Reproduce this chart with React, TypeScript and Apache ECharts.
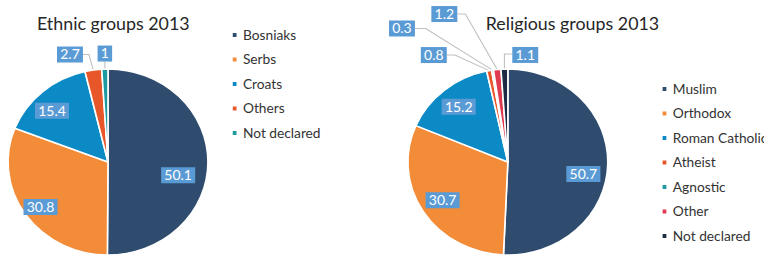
import React, { useEffect, useRef } from 'react';
import * as echarts from 'echarts';

// ---------- data ----------
const ethnicTitle = 'Ethnic groups 2013';
const ethnicNames = ['Bosniaks', 'Serbs', 'Croats', 'Others', 'Not declared'];
const ethnicValues = [50.1, 30.8, 15.4, 2.7, 1];
const ethnicColors = ['#2F4C6E', '#F28C38', '#0C8AC5', '#E8572A', '#1B9AA0'];

const religionTitle = 'Religious groups 2013';
const religionNames = ['Muslim', 'Orthodox', 'Roman Catholic', 'Atheist', 'Agnostic', 'Other', 'Not declared'];
const religionValues = [50.7, 30.7, 15.2, 0.8, 0.3, 1.2, 1.1];
const religionColors = ['#2F4C6E', '#F28C38', '#0C8AC5', '#E8572A', '#1B9AA0', '#E03A4E', '#1D2B44'];

// ---------- layout ----------
const SCALE_X = 1.0746;
const W = 711;
const H = 256;
const RADIUS = 93;
const LEFT_CENTER = [100.5, 162];
const RIGHT_CENTER = [472.6, 162];
const INSIDE_FACTOR = 1.45;
const FONT = 'Lato, "Open Sans", sans-serif';
const BOX_COLOR = '#5B9BD5';
const LEADER_COLOR = '#BFBFBF';

type OuterSpec = { dx: number; dy: number; side: 'left' | 'right' | 'below'; elbow?: number };

const ethnicOuter: Record<number, OuterSpec> = {
  3: { dx: -21.7, dy: -15.5, side: 'left', elbow: 5.6 },
  4: { dx: 0, dy: -15.5, side: 'below' },
};
const ethnicNudge: Record<number, number[]> = { 0: [-6.5, 13], 1: [-3.4, 4.6], 2: [-5, 3] };

const religionOuter: Record<number, OuterSpec> = {
  3: { dx: -51.5, dy: -15.6, side: 'left', elbow: 7.5 },
  4: { dx: -84.3, dy: -41.6, side: 'left', elbow: 10 },
  5: { dx: -49.2, dy: -55.5, side: 'left', elbow: 7.5 },
  6: { dx: 19.4, dy: -14.1, side: 'right' },
};
const religionNudge: Record<number, number[]> = { 0: [-1.5, 10.5] };

function makeLabelLayout(center: number[], outer: Record<number, OuterSpec>, nudge: Record<number, number[]>) {
  return (p: any) => {
    const idx = p.dataIndex;
    const lr = p.labelRect;
    const lcx = lr.x + lr.width / 2;
    const lcy = lr.y + lr.height / 2;
    const spec = outer[idx];
    if (!spec) {
      const nd = nudge[idx] || [0, 0];
      return {
        x: center[0] + (lcx - center[0]) * INSIDE_FACTOR + nd[0],
        y: center[1] + (lcy - center[1]) * INSIDE_FACTOR + nd[1],
        align: 'center',
        verticalAlign: 'middle',
      };
    }
    const edge = p.labelLinePoints && p.labelLinePoints[0] ? p.labelLinePoints[0] : [lcx, lcy];
    const lx = edge[0] + spec.dx;
    const ly = edge[1] + spec.dy;
    const hw = lr.width / 2;
    const hh = lr.height / 2;
    let pts: number[][];
    if (spec.side === 'left') {
      const ax = lx + hw;
      pts = [[edge[0], edge[1]], [ax + (spec.elbow || 5), ly], [ax, ly]];
    } else if (spec.side === 'right') {
      const ax = lx - hw;
      pts = [[edge[0], edge[1]], [edge[0], ly - 1], [ax, ly - 1]];
    } else {
      pts = [[edge[0], edge[1]], [edge[0], ly + hh], [edge[0], ly + hh]];
    }
    return { x: lx, y: ly, align: 'center', verticalAlign: 'middle', labelLinePoints: pts };
  };
}

function buildData(names: string[], values: number[], colors: string[], outer: Record<number, OuterSpec>) {
  return names.map((name, i) => ({
    name,
    value: values[i],
    itemStyle: { color: colors[i] },
    label: { position: outer[i] ? 'outside' : 'inside' },
    labelLine: { show: !!outer[i] },
  }));
}

const labelStyle = {
  show: true,
  formatter: '{c}',
  color: '#ffffff',
  backgroundColor: BOX_COLOR,
  padding: [1.5, 3],
  fontSize: 13,
  lineHeight: 13,
  fontFamily: FONT,
};

function legendFor(names: string[], colors: string[], left: number, top: number) {
  return {
    orient: 'vertical',
    left,
    top,
    icon: 'rect',
    itemWidth: 5.5,
    itemHeight: 6,
    itemGap: 10.5,
    padding: 0,
    selectedMode: false,
    textStyle: { fontFamily: FONT, fontSize: 12.8, color: '#333333', lineHeight: 14 },
    data: names.map((n, i) => ({ name: n, itemStyle: { color: colors[i] } })),
  };
}

export default function App() {
  const ref = useRef<HTMLDivElement>(null);
  useEffect(() => {
    if (!ref.current) return;
    const chart = echarts.init(ref.current, undefined, { renderer: 'svg' });
    const option: any = {
      animation: false,
      backgroundColor: '#ffffff',
      title: [
        {
          text: ethnicTitle,
          left: 34.4,
          top: 13,
          padding: 0,
          textStyle: { fontFamily: FONT, fontSize: 16.6, fontWeight: 'normal', color: '#262626', lineHeight: 22 },
        },
        {
          text: religionTitle,
          left: 452,
          top: 13,
          padding: 0,
          textStyle: { fontFamily: FONT, fontSize: 16.6, fontWeight: 'normal', color: '#262626', lineHeight: 22 },
        },
      ],
      legend: [
        legendFor(ethnicNames, ethnicColors, 214.6, 28),
        legendFor(religionNames, religionColors, 614.6, 82),
      ],
      series: [
        {
          type: 'pie',
          center: LEFT_CENTER,
          radius: RADIUS,
          startAngle: 90,
          clockwise: true,
          avoidLabelOverlap: false,
          itemStyle: { borderColor: '#ffffff', borderWidth: 1.5 },
          label: labelStyle,
          labelLine: { lineStyle: { color: LEADER_COLOR, width: 1 }, length: 10, length2: 10 },
          labelLayout: makeLabelLayout(LEFT_CENTER, ethnicOuter, ethnicNudge),
          emphasis: { disabled: true },
          data: buildData(ethnicNames, ethnicValues, ethnicColors, ethnicOuter),
        },
        {
          type: 'pie',
          center: RIGHT_CENTER,
          radius: RADIUS,
          startAngle: 90,
          clockwise: true,
          avoidLabelOverlap: false,
          itemStyle: { borderColor: '#ffffff', borderWidth: 1.5 },
          label: labelStyle,
          labelLine: { lineStyle: { color: LEADER_COLOR, width: 1 }, length: 10, length2: 10 },
          labelLayout: makeLabelLayout(RIGHT_CENTER, religionOuter, religionNudge),
          emphasis: { disabled: true },
          data: buildData(religionNames, religionValues, religionColors, religionOuter),
        },
      ],
    };
    chart.setOption(option);
    return () => chart.dispose();
  }, []);
  return (
    <div
      ref={ref}
      style={{
        position: 'absolute',
        left: 0,
        top: 0,
        width: W,
        height: H,
        transform: `scaleX(${SCALE_X})`,
        transformOrigin: '0 0',
      }}
    />
  );
}
